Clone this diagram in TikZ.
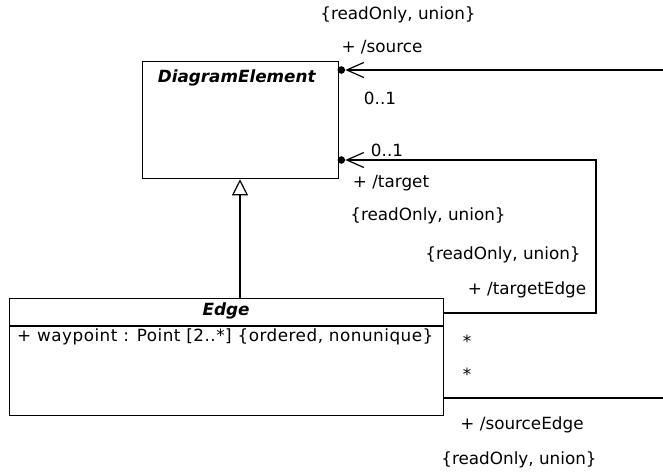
\documentclass[tikz,border=0pt]{standalone}
\usepackage{fontspec}
\setmainfont{DejaVu Sans}
\newfontfamily\widefont[LetterSpace=3]{DejaVu Sans}
\usetikzlibrary{arrows.meta}
\begin{document}
\begin{tikzpicture}[x=1pt,y=-1pt,
  box/.style={draw, line width=1.3pt, inner sep=0pt, anchor=north west},
  lbl/.style={font=\fontsize{16.8}{19}\selectfont, inner sep=0pt},
  conn/.style={line width=1.2pt},
  barb/.style={conn,-{Straight Barb[length=17pt,width=15pt,line width=1.2pt]}},
  gen/.style={conn,-{Triangle[open,length=16pt,width=16pt,line width=1.2pt]}},
  dot/.style={fill=black}
]
\useasboundingbox (0,0) rectangle (663,471);

% classes
\node[box, minimum width=196pt, minimum height=117pt] (de) at (142,61) {};
\node[lbl] (deName) at (237,78) {\textbf{\textit{DiagramElement}}};
\node[box, minimum width=434pt, minimum height=117pt] (edge) at (9,298) {};
\node[lbl] (edgeName) at (226,311) {\textbf{\textit{Edge}}};
\coordinate (cmpL) at (9,326);
\draw[conn] (cmpL) -- (cmpL -| edge.east);
\node[lbl, anchor=west, font=\widefont\fontsize{16.8}{19}\selectfont] (wp) at (17,337) {+ waypoint : Point [2..*] \{ordered, nonunique\}};

% generalization
\coordinate (genx) at (240,0);
\draw[gen] (edge.north -| genx) -- (de.south -| genx);

% source association
\coordinate (srcEnd) at (663,70);
\draw[barb] (srcEnd) -- ([xshift=6pt]de.east |- srcEnd);
\fill[dot] ([xshift=2pt]de.east |- srcEnd) circle (3.8pt);

% target association
\coordinate (tgtTop) at (596,160);
\coordinate (tgtBot) at (596,313);
\draw[barb] (edge.east |- tgtBot) -- (tgtBot) -- (tgtTop) -- ([xshift=6pt]de.east |- tgtTop);
\fill[dot] ([xshift=2pt]de.east |- tgtTop) circle (3.8pt);

% source edge line
\coordinate (seEnd) at (663,398);
\draw[conn] (edge.east |- seEnd) -- (seEnd);

% labels
\node[lbl] (l1) at (398,15) {\{readOnly, union\}};
\node[lbl] (l2) at (382,47) {+ /source};
\node[lbl] (l3) at (380,98) {0..1};
\node[lbl] (l4) at (387,150) {0..1};
\node[lbl] (l5) at (391,183) {+ /target};
\node[lbl] (l6) at (428,216) {\{readOnly, union\}};
\node[lbl] (l7) at (503,255) {\{readOnly, union\}};
\node[lbl] (l8) at (527,290) {+ /targetEdge};
\node[lbl] (l9) at (467,341) {*};
\node[lbl] (l10) at (467,374) {*};
\node[lbl] (l11) at (522,425) {+ /sourceEdge};
\node[lbl] (l12) at (519,460) {\{readOnly, union\}};
\end{tikzpicture}
\end{document}
